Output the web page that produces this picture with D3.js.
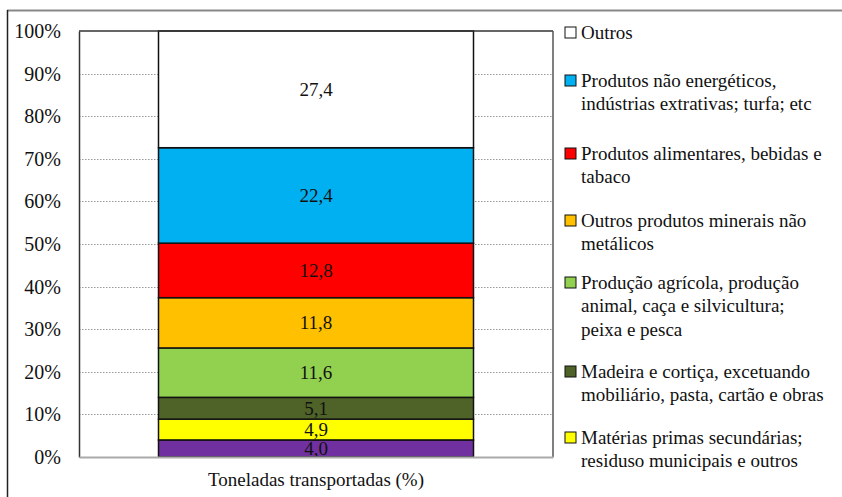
<!DOCTYPE html>
<html>
<head>
<meta charset="utf-8">
<script src="https://cdn.jsdelivr.net/npm/d3@7"></script>
</head>
<body style="margin:0; background:#fff">
<div id="chart"></div>
<script>
// bottom to top
const values = [4.0, 4.9, 5.1, 11.6, 11.8, 12.8, 22.4, 27.4]
const colors = ["#7030A0", "#FFFF00", "#4F6228", "#92D050", "#FFC000", "#FF0000", "#00B0F0", "#FFFFFF"]
const category = "Toneladas transportadas (%)"
const yTicks = [0, 10, 20, 30, 40, 50, 60, 70, 80, 90, 100]

// legend, top to bottom (index into values/colors)
const legendIdx = [7, 6, 5, 4, 3, 2, 1]
const legendLabels = [
  ["Outros"],
  ["Produtos não energéticos,", "indústrias extrativas; turfa; etc"],
  ["Produtos alimentares, bebidas e", "tabaco"],
  ["Outros produtos minerais não", "metálicos"],
  ["Produção agrícola, produção", "animal, caça e silvicultura;", "peixa e pesca"],
  ["Madeira e cortiça, excetuando", "mobiliário, pasta, cartão e obras"],
  ["Matérias primas secundárias;", "residuso municipais e outros"]
]

const width = 842, height = 497
const plot = {left: 79, top: 31, right: 553, bottom: 457}
const fontFamily = '"Liberation Serif"'
const fs = 19

const svg = d3.select("#chart").append("svg")
  .attr("width", width).attr("height", height)
  .style("display", "block")

// outer frame (cropped)
svg.append("line").attr("x1", 7).attr("x2", width).attr("y1", 10.5).attr("y2", 10.5)
  .attr("stroke", "#888").attr("stroke-width", 2)
svg.append("line").attr("x1", 7.5).attr("x2", 7.5).attr("y1", 10).attr("y2", height)
  .attr("stroke", "#222").attr("stroke-width", 1.5)

const x = d3.scaleBand().domain([category]).range([plot.left, plot.right]).paddingInner(0).paddingOuter(0.5)
const y = d3.scaleLinear().domain([0, 100]).range([plot.bottom, plot.top])

// gridlines
svg.append("g").selectAll("line").data(yTicks.filter(d => d > 0 && d < 100)).join("line")
  .attr("x1", plot.left).attr("x2", plot.right)
  .attr("y1", d => Math.round(y(d)) + 0.5).attr("y2", d => Math.round(y(d)) + 0.5)
  .attr("stroke", "#999").attr("stroke-dasharray", "1.5,1.5")

// stacked segments
let acc = 0
const segs = values.map((v, i) => {
  const s = {y0: acc, y1: acc + v, v: v, color: colors[i]}
  acc += v
  return s
})
const barW = 315
const bx = x(category) + x.bandwidth() / 2 - barW / 2

svg.append("g").selectAll("rect").data(segs).join("rect")
  .attr("x", bx).attr("width", barW)
  .attr("y", d => y(d.y1)).attr("height", d => y(d.y0) - y(d.y1))
  .attr("fill", d => d.color)
  .attr("stroke", "#111").attr("stroke-width", 1.5)

const valLabels = svg.append("g").selectAll("text").data(segs).join("text")
  .attr("x", bx + barW / 2)
  .attr("y", d => y((d.y0 + d.y1) / 2))
  .attr("dy", "0.35em")
  .attr("text-anchor", "middle")
  .text(d => d3.format(".1f")(d.v).replace(".", ","))

// plot frame: top and right
svg.append("line").attr("x1", plot.left).attr("x2", plot.right).attr("y1", plot.top).attr("y2", plot.top)
  .attr("stroke", "#333").attr("stroke-width", 1.5)
svg.append("line").attr("x1", plot.right).attr("x2", plot.right).attr("y1", plot.top).attr("y2", plot.bottom)
  .attr("stroke", "#555").attr("stroke-width", 1.5)

// y axis
const yAxis = svg.append("g").attr("transform", `translate(${plot.left},0)`)
  .call(d3.axisLeft(y).tickValues(yTicks).tickFormat(d => d + "%").tickSize(0).tickPadding(18))
yAxis.select(".domain").attr("stroke", "#333").attr("stroke-width", 1.5)

// x axis
const xAxis = svg.append("g").attr("transform", `translate(0,${plot.bottom})`)
  .call(d3.axisBottom(x).tickSize(0).tickPadding(16))
xAxis.select(".domain").attr("stroke", "#aaa").attr("stroke-width", 2)

// legend
const rowStarts = [32, 80, 153, 220, 282, 371, 437]
const lineH = 23.5
const lg = svg.append("g")
legendIdx.forEach((idx, k) => {
  const y0 = rowStarts[k]
  lg.append("rect").attr("x", 565).attr("y", y0 - 5).attr("width", 11).attr("height", 11)
    .attr("fill", colors[idx]).attr("stroke", "#111").attr("stroke-width", 1)
  legendLabels[k].forEach((line, j) => {
    lg.append("text").attr("x", 581).attr("y", y0 + j * lineH).attr("dy", "0.35em")
      .text(line)
  })
})

svg.selectAll("text")
  .style("font-family", fontFamily)
  .style("font-size", fs + "px")
  .attr("fill", "#111")
yAxis.selectAll("text").style("font-size", "20px")
</script>
</body>
</html>
